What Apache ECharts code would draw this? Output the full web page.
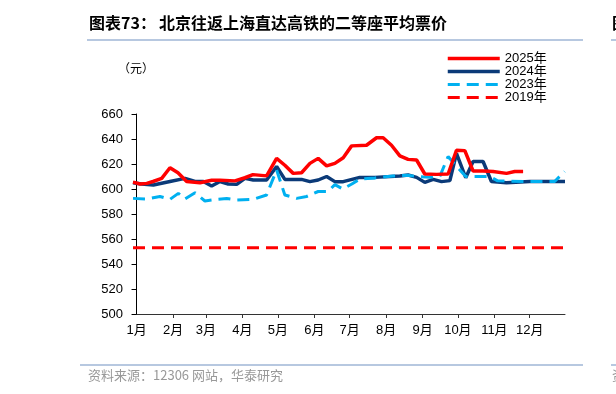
<!DOCTYPE html>
<html><head><meta charset="utf-8">
<script src="https://cdn.jsdelivr.net/npm/echarts@6/dist/echarts.min.js"></script>
<style>html,body{margin:0;padding:0;background:#fff}#c{width:616px;height:394px}</style>
</head><body><div id="c"></div>
<script>
// x = day of year (0 = Jan 1), y = average fare (元)
const monthStarts = [0,31,59,90,120,151,181,212,243,273,304,334];
const monthLabels = ['1月','2月','3月','4月','5月','6月','7月','8月','9月','10月','11月','12月'];
const yTicks = [500,520,540,560,580,600,620,640,660];

const s2025 = [[-3,605.5],[3,604],[8.7,604.5],[14,606],[21.4,608.5],[28.4,617],[35.2,613],[42.6,606],[53.9,605],[63.8,607],[70.9,607],[83.6,606.5],[92.1,609],[98.9,611.5],[110.5,610.5],[119,624.5],[126,619],[133.1,612.5],[140.2,613],[147.3,620.5],[154.3,624.5],[161.5,618.5],[168.5,620.5],[175.6,625],[182.7,634.5],[195.4,635],[203.9,641],[209.5,641],[216.6,635],[223.7,626.5],[230.7,623.7],[237.9,623.2],[244.9,612],[254.8,611.7],[264.7,612],[271.8,631],[278.9,630.7],[285.9,614.4],[294.4,614.4],[302.9,614],[314.3,612.5],[321.3,614],[328.4,614]];
const s2024 = [[-3,605],[4.2,604],[14.3,603.2],[28.4,606],[41.2,608.5],[49.7,606],[56.7,606],[63.8,602.4],[70.9,606],[77.9,604],[85.1,603.7],[92.1,608.5],[99.2,607.2],[110.5,607.2],[119,618],[126,607.7],[140.2,607.7],[147.3,605.9],[154.3,607.2],[161.5,610],[168.5,605.9],[175.6,605.9],[189.7,609.3],[202.5,609.3],[223.7,610.4],[230.7,611.2],[237.9,609.3],[244.9,605.3],[252,607.7],[259.1,605.9],[266.2,606.7],[271.8,628.5],[279.7,609],[285.9,622],[294.4,622],[301.5,606],[314.3,605],[334,606],[364,606]];
const s2023 = [[-3,592.5],[8.7,592],[19.9,594],[28.4,591.7],[35.5,596.5],[41.2,592],[49.7,597],[58.1,590.4],[68.1,591.7],[76.6,592.4],[85.1,591.2],[99.2,591.7],[110.5,595.2],[119,615.2],[126,595.2],[136,592.5],[144.5,594],[154.3,598],[162.6,598],[168.5,603.5],[175.3,600],[182.9,604],[189.7,608],[202.5,608.8],[217.7,610.4],[230.5,611],[237.9,610],[249.2,609.3],[257.6,610],[264.7,626],[272.1,618],[279.7,610],[300,610],[306.8,606.5],[334,606],[355.2,606],[363.7,614]];
const s2019 = [[-3,553],[364,553]];

const chart = echarts.init(document.getElementById('c'), null, {renderer:'canvas'});
const txtFont = 'Liberation Sans, Arial, "Noto Sans CJK SC", sans-serif';
const cjkFont = '"Noto Sans CJK SC", sans-serif';
function mk(name, data, color, width, dashed, z){
  return {name, type:'line', data, symbol:'none', z,
    lineStyle:{color, width, type: dashed ? [12,7] : 'solid'},
    itemStyle:{color}, animation:false};
}
chart.setOption({
  animation:false,
  grid:{left:133, right:51, top:114, bottom:80},
  legend:{orient:'vertical', left:446, top:52, itemWidth:52, itemHeight:13.5, itemGap:0, padding:0,
    data:[
      {name:'2025年', lineStyle:{width:3.5}},
      {name:'2024年', lineStyle:{width:3.5}},
      {name:'2023年', lineStyle:{width:3.2}},
      {name:'2019年', lineStyle:{width:3.2}}
    ],
    itemStyle:{opacity:0},
    textStyle:{fontSize:13, color:'#000', fontFamily:txtFont}},
  xAxis:{type:'value', min:-3, max:364,
    axisLine:{lineStyle:{color:'#333', width:1}},
    axisTick:{show:true, length:4, inside:false, customValues:monthStarts.slice(1), lineStyle:{color:'#333'}},
    axisLabel:{customValues:monthStarts, fontSize:13, color:'#000', margin:10, fontFamily:txtFont,
      formatter:function(v){const i=monthStarts.indexOf(Math.round(v));return i>=0?monthLabels[i]:'';}},
    splitLine:{show:false}},
  yAxis:{type:'value', min:yTicks[0], max:yTicks[yTicks.length-1], interval:20,
    axisLine:{show:true, lineStyle:{color:'#000', width:1}},
    axisTick:{show:true, length:5, lineStyle:{color:'#000'}},
    axisLabel:{fontSize:13, color:'#000', margin:10, fontFamily:txtFont},
    splitLine:{show:false}},
  series:[
    mk('2024年', s2024, '#0B3A78', 3.5, false, 2),
    mk('2023年', s2023, '#00B0F0', 3, true, 3),
    mk('2025年', s2025, '#FF0000', 3.5, false, 4),
    mk('2019年', s2019, '#FF0000', 3, true, 1)
  ],
  graphic:[
    {type:'text', left:89, top:15, style:{text:'图表73：', font:'bold 16px '+cjkFont, fill:'#000'}},
    {type:'text', left:159, top:15, style:{text:'北京往返上海直达高铁的二等座平均票价', font:'bold 16px '+cjkFont, fill:'#000'}},
    {type:'line', shape:{x1:87, y1:40, x2:583, y2:40}, style:{stroke:'#9FB6D6', lineWidth:1.5}},
    {type:'line', shape:{x1:611, y1:40, x2:616, y2:40}, style:{stroke:'#9FB6D6', lineWidth:1.5}},
    {type:'text', left:612, top:15, style:{text:'图', font:'bold 16px '+cjkFont, fill:'#000'}},
    {type:'text', left:118, top:62, style:{text:'（元）', font:'12px '+cjkFont, fill:'#000'}},
    {type:'line', shape:{x1:80, y1:365, x2:583, y2:365}, style:{stroke:'#9FB6D6', lineWidth:1.5}},
    {type:'line', shape:{x1:611, y1:365, x2:616, y2:365}, style:{stroke:'#9FB6D6', lineWidth:1.5}},
    {type:'text', left:88, top:369, style:{text:'资料来源：12306 网站，华泰研究', font:'13px '+cjkFont, fill:'#999'}},
    {type:'text', left:612, top:369, style:{text:'资', font:'13px '+cjkFont, fill:'#999'}}
  ]
});
</script></body></html>
